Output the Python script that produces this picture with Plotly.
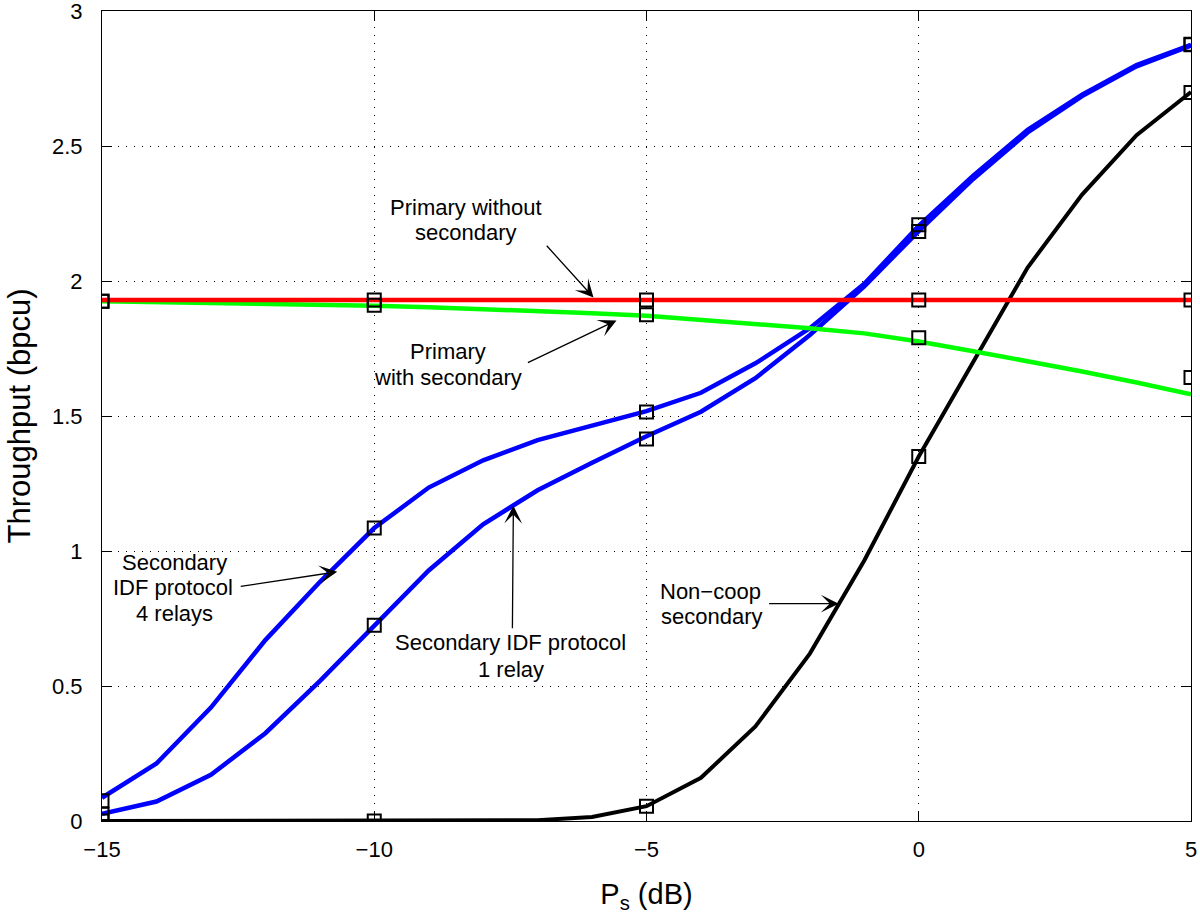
import plotly.graph_objects as go

# ---------------- data ----------------
ps_db = [-15, -14, -13, -12, -11, -10, -9, -8, -7, -6, -5, -4, -3, -2, -1, 0, 1, 2, 3, 4, 5]

secondary_idf_4relays = [0.086, 0.213, 0.42, 0.67, 0.885, 1.085, 1.235, 1.336, 1.411, 1.463, 1.518,
                         1.586, 1.695, 1.825, 1.99, 2.204, 2.39, 2.56, 2.69, 2.80, 2.875]
secondary_idf_1relay = [0.027, 0.072, 0.171, 0.325, 0.518, 0.722, 0.928, 1.099, 1.225, 1.327, 1.425,
                        1.516, 1.64, 1.80, 1.98, 2.185, 2.378, 2.55, 2.685, 2.795, 2.872]
noncoop_secondary = [0.0, 0.0, 0.0, 0.0, 0.0, 0.0, 0.0, 0.0, 0.003, 0.015, 0.055,
                     0.16, 0.35, 0.62, 0.965, 1.35, 1.70, 2.05, 2.32, 2.54, 2.70]
primary_without_secondary = [1.93, 1.93, 1.93, 1.93, 1.93, 1.93, 1.93, 1.93, 1.93, 1.93, 1.93,
                             1.93, 1.93, 1.93, 1.93, 1.93, 1.93, 1.93, 1.93, 1.93, 1.93]
primary_with_secondary = [1.925, 1.922, 1.92, 1.917, 1.913, 1.908, 1.903, 1.897, 1.89, 1.881, 1.871,
                          1.857, 1.842, 1.825, 1.806, 1.776, 1.74, 1.703, 1.665, 1.624, 1.58]

# simulation points (square markers)
sim_ps_db = [-15, -10, -5, 0, 5]
sim_4relays = [0.075, 1.085, 1.515, 2.208, 2.877]
sim_1relay = [0.025, 0.725, 1.415, 2.183, 2.875]
sim_noncoop = [0.0, 0.0, 0.055, 1.35, 2.698]
sim_primary_without = [1.925, 1.93, 1.93, 1.93, 1.93]
sim_primary_with = [1.925, 1.91, 1.875, 1.79, 1.643]

x_ticks = [-15, -10, -5, 0, 5]
y_ticks = [0, 0.5, 1, 1.5, 2, 2.5, 3]

FONT = "Liberation Sans, Arial, Helvetica, sans-serif"

fig = go.Figure()

# curves (drawing order: blue, black, green, red)
curves = [
    (secondary_idf_4relays, "#0000FF", 4.5, "Secondary IDF protocol 4 relays"),
    (secondary_idf_1relay, "#0000FF", 4.5, "Secondary IDF protocol 1 relay"),
    (noncoop_secondary, "#000000", 4, "Non-coop secondary"),
    (primary_with_secondary, "#00FF00", 4.5, "Primary with secondary"),
    (primary_without_secondary, "#FF0000", 4.5, "Primary without secondary"),
]
for ys, col, w, name in curves:
    fig.add_trace(go.Scatter(x=ps_db, y=ys, mode="lines", name=name,
                             line=dict(color=col, width=w)))

for ys in [sim_4relays, sim_1relay, sim_noncoop, sim_primary_without, sim_primary_with]:
    fig.add_trace(go.Scatter(x=sim_ps_db, y=ys, mode="markers", showlegend=False,
                             marker=dict(symbol="square-open", size=13, color="black",
                                         line=dict(color="black", width=2))))

# text labels (each line placed separately)
text_lines = [
    ("Primary without", -8.31, 2.273),
    ("secondary", -8.31, 2.180),
    ("Primary", -8.64, 1.739),
    ("with secondary", -8.65, 1.643),
    ("Secondary", -13.66, 0.957),
    ("IDF protocol", -13.70, 0.864),
    ("4 relays", -13.66, 0.768),
    ("Secondary IDF protocol", -7.50, 0.660),
    ("1 relay", -7.48, 0.560),
    ("Non\u2212coop", -3.82, 0.849),
    ("secondary", -3.80, 0.756),
]
annotations = []
for t, xx, yy in text_lines:
    annotations.append(dict(text=t, x=xx, y=yy, xref="x", yref="y", showarrow=False,
                             xanchor="center", yanchor="middle",
                             font=dict(family=FONT, size=22, color="black")))

# arrows: (head_x, head_y, tail_x, tail_y)
arrows = [
    (-5.974, 1.939, -6.857, 2.136),
    (-5.551, 1.854, -7.206, 1.695),
    (-10.68, 0.923, -12.48, 0.868),
    (-7.445, 1.168, -7.463, 0.708),
    (-1.47, 0.805, -2.776, 0.805),
]
for hx, hy, tx, ty in arrows:
    annotations.append(dict(text="", x=hx, y=hy, ax=tx, ay=ty, xref="x", yref="y",
                            axref="x", ayref="y", showarrow=True, arrowhead=3,
                            arrowsize=2.3, arrowwidth=1.3, arrowcolor="black",
                            standoff=0, startstandoff=0))

axis_common = dict(
    showline=True, linecolor="black", linewidth=1, mirror="ticks",
    ticks="inside", ticklen=10, tickwidth=1, tickcolor="black",
    showgrid=True, gridcolor="black", gridwidth=1, griddash="1px,7px",
    zeroline=False, automargin=False, ticklabeloverflow="allow",
    tickfont=dict(family=FONT, size=22, color="black"),
)

fig.update_layout(
    width=1200, height=922,
    margin=dict(l=102, r=9, t=11, b=101),
    paper_bgcolor="white", plot_bgcolor="white",
    showlegend=False,
    annotations=annotations,
    font=dict(family=FONT, color="black"),
    xaxis=dict(range=[-15, 5], tickvals=x_ticks, ticklabelstandoff=9,
               title=dict(text="P<sub>s</sub> (dB)", font=dict(family=FONT, size=29, color="black"),
                          standoff=22),
               **axis_common),
    yaxis=dict(range=[0, 3], tickvals=y_ticks, ticklabelstandoff=14,
               title=dict(text="Throughput (bpcu)", font=dict(family=FONT, size=31, color="black"),
                          standoff=12),
               **axis_common),
)

fig.write_html("out.html", config={"displayModeBar": False},
               post_script="document.body.style.margin='0px';document.body.style.padding='0px';")
